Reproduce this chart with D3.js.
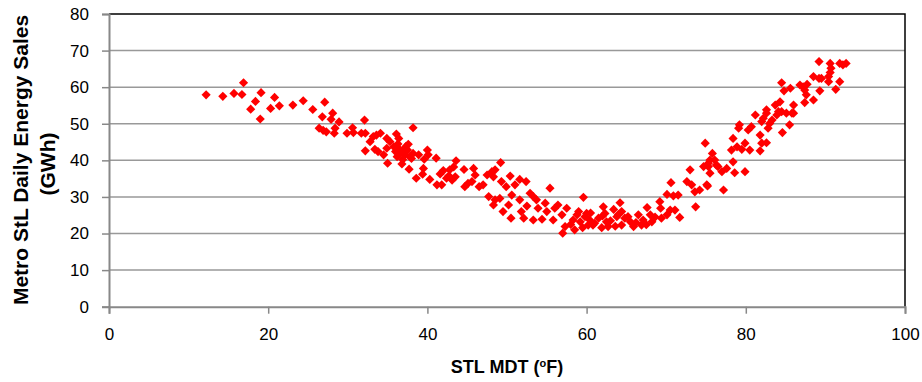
<!DOCTYPE html>
<html>
<head>
<meta charset="utf-8">
<script src="https://cdn.jsdelivr.net/npm/d3@7"></script>
<style>
  body { margin: 0; background: #fff; }
</style>
</head>
<body>
<div class="chart"></div>
<script>
const width = 922
const height = 382

// daily mean temperature (F) and energy sales (GWh)
const tempF = [
  12.2, 14.3, 15.7, 16.7, 16.9, 17.8, 18.4, 19.0, 19.1, 20.3, 20.8, 21.4, 23.1, 24.4, 25.6, 26.4,
  27.1, 26.8, 28.1, 27.9, 28.9, 26.9, 27.3, 28.4, 28.3, 29.9, 30.6, 30.7, 31.7, 32.1, 32.2, 32.8,
  33.2, 33.6, 34.1, 32.2, 33.4, 33.8, 34.5, 34.9, 34.9, 35.0,
  35.3, 36.1, 36.4, 35.8, 36.0, 36.6, 36.2, 36.8, 37.0, 37.6, 37.8, 37.7, 38.2, 38.2, 38.9, 39.6,
  40.0, 40.1, 39.5, 38.6, 39.4, 40.3, 41.1, 41.6, 41.2, 41.8, 42.4,
  36.5, 37.2, 36.9, 37.5, 38.0, 36.3, 37.3,
  43.6, 42.8, 43.1, 43.5, 44.6, 44.7, 45.1, 45.6, 45.8, 46.0, 46.5, 47.0, 47.5, 48.1, 48.5, 48.3,
  49.2, 49.3, 49.9, 50.4, 51.0, 51.6, 52.4, 47.7, 48.5, 49.1, 48.3, 49.5, 50.2, 50.6, 50.5, 51.6,
  51.8, 52.1, 52.5, 52.9, 53.3, 53.3, 53.7, 53.9, 54.4, 54.8, 55.0, 55.4, 55.8, 56.0, 56.4, 56.9,
  57.5, 57.3, 57.0, 58.5, 58.3, 58.8, 59.2, 59.6, 59.8, 60.2, 60.0,
  42.0, 42.7, 43.3, 58.0, 59.5, 59.0,
  60.4, 60.8, 61.5, 62.1, 62.3, 62.5, 62.7, 63.4, 63.8, 64.2, 64.4, 64.4, 64.8, 65.5, 65.9, 66.5,
  66.9, 67.1, 67.6, 68.0, 68.2, 69.2, 69.3, 69.4, 70.1, 70.1, 70.5, 70.6, 71.1, 71.5, 71.7, 70.9,
  73.0, 72.6, 73.2, 73.6, 73.7, 74.2, 75.1, 75.3, 75.5, 76.3, 77.2,
  61.0, 61.9, 63.0, 63.6, 64.0, 65.2, 66.2, 67.5, 68.6, 60.5, 62.0,
  75.2, 74.9, 74.7, 75.3, 75.8, 76.1, 75.5, 76.5, 77.0, 77.6, 78.4, 78.6, 78.2, 78.4, 78.9, 79.5,
  79.9, 79.9, 80.5, 80.3, 80.7, 79.2, 79.1, 81.8, 82.0, 81.8, 82.6, 81.2, 82.2, 82.6, 82.8, 83.0,
  83.3, 83.9, 84.5, 84.6, 85.5, 85.8, 85.1,
  82.0, 82.6, 83.7, 84.3, 84.1, 86.0, 86.0, 84.5, 84.8, 85.6, 86.8, 87.2, 87.7, 87.4, 87.6, 87.4,
  88.5, 88.5, 89.2, 89.3, 89.5, 90.4, 90.6, 90.7, 90.6, 89.2, 90.4, 91.3, 91.8, 91.8, 92.6, 92.2
]
const salesGWh = [
  57.9, 57.5, 58.3, 58.0, 61.2, 54.0, 56.1, 51.3, 58.5, 54.2, 57.2, 54.9, 55.1, 56.3, 53.9, 48.8,
  55.9, 51.9, 52.9, 51.2, 50.5, 48.2, 47.8, 48.8, 47.4, 47.4, 48.9, 47.6, 47.4, 51.0, 47.4, 45.1,
  46.5, 46.9, 47.4, 42.6, 43.0, 42.4, 41.5, 46.0, 43.3, 39.2,
  45.1, 47.2, 46.0, 43.7, 42.4, 41.9, 41.0, 39.0, 42.8, 44.4, 41.0, 37.6, 48.9, 41.9, 41.5, 40.3,
  42.8, 41.5, 37.8, 35.1, 36.2, 34.8, 40.6, 36.3, 33.3, 33.3, 35.1,
  43.0, 41.5, 40.2, 42.8, 40.5, 44.5, 43.8,
  39.9, 37.4, 34.6, 35.5, 37.5, 32.8, 33.7, 34.2, 37.8, 36.0, 32.8, 33.3, 36.0, 36.9, 37.4, 35.5,
  39.4, 34.2, 32.8, 35.7, 33.3, 34.8, 34.2, 30.1, 29.2, 29.6, 27.8, 26.0, 27.8, 30.5, 24.2, 29.2,
  26.0, 24.2, 27.5, 31.0, 30.1, 23.7, 29.2, 26.9, 23.9, 28.3, 26.0, 32.4, 23.7, 26.9, 27.8, 25.1,
  26.9, 21.9, 20.1, 21.0, 23.7, 25.1, 23.2, 29.9, 24.6, 22.3, 25.5,
  37.2, 35.8, 38.2, 22.5, 21.6, 26.0,
  23.7, 22.3, 24.2, 27.3, 25.5, 23.2, 21.9, 26.6, 24.6, 28.4, 26.0, 22.3, 24.2, 23.2, 21.9, 25.1,
  22.3, 23.7, 27.1, 25.1, 23.2, 28.7, 26.9, 24.2, 25.1, 30.7, 26.4, 33.9, 26.4, 30.5, 24.4, 30.3,
  37.4, 34.2, 33.3, 31.4, 27.3, 31.9, 33.3, 38.3, 40.1, 38.7, 31.9,
  22.8, 21.6, 23.5, 22.0, 25.2, 24.6, 23.0, 22.4, 24.5, 25.6, 24.8,
  33.0, 44.7, 38.3, 39.2, 41.9, 40.1, 36.5, 38.3, 36.9, 37.8, 39.6, 36.6, 42.8, 46.0, 43.7, 43.0,
  44.7, 36.9, 42.8, 48.3, 49.2, 49.7, 48.8, 46.9, 44.7, 42.6, 44.8, 52.4, 51.5, 52.9, 48.8, 50.1,
  51.0, 52.4, 53.3, 47.6, 49.7, 52.9, 52.9,
  50.6, 53.8, 55.1, 56.0, 53.3, 55.1, 52.9, 61.2, 59.0, 59.7, 60.6, 60.1, 60.8, 59.2, 57.9, 55.8,
  56.5, 62.9, 62.4, 59.0, 62.4, 62.9, 64.0, 65.2, 66.5, 67.0, 61.5, 59.4, 61.5, 66.5, 66.5, 66.1
]
const xTicks = [0, 20, 40, 60, 80, 100]
const yTicks = [0, 10, 20, 30, 40, 50, 60, 70, 80]

const points = tempF.map((t, i) => ({t: t, s: salesGWh[i]}))

function drawScatter(points) {
  const margin = {top: 14, right: 17, bottom: 75, left: 109}

  const x = d3.scaleLinear()
    .domain([0, 100])
    .range([margin.left, width - margin.right])

  const y = d3.scaleLinear()
    .domain([0, 80])
    .range([height - margin.bottom - 0.3, margin.top])

  const svg = d3.create("svg")
    .attr("width", width)
    .attr("height", height)
    .attr("viewBox", [0, 0, width, height])
    .style("font-family", "'Liberation Sans', Arial, Helvetica, sans-serif")

  // horizontal gridlines
  svg.append("g")
    .selectAll("line")
    .data(yTicks.slice(1, -1))
    .join("line")
    .attr("x1", x(0))
    .attr("x2", x(100))
    .attr("y1", d => y(d))
    .attr("y2", d => y(d))
    .attr("stroke", "#999")
    .attr("stroke-width", 1.5)

  // black frame on top and right
  svg.append("path")
    .attr("d", `M${x(0)},${y(80)}H${x(100)}V${y(0)}`)
    .attr("fill", "none")
    .attr("stroke", "#000")
    .attr("stroke-width", 1.5)

  const xAxis = svg.append("g")
    .attr("transform", `translate(0,${y(0)})`)
    .call(d3.axisBottom(x).tickValues(xTicks).tickSize(7).tickPadding(14))

  const yAxis = svg.append("g")
    .attr("transform", `translate(${x(0)},0)`)
    .call(d3.axisLeft(y).tickValues(yTicks).tickSize(7).tickPadding(13))

  for (const ax of [xAxis, yAxis]) {
    ax.select(".domain").attr("stroke", "#888").attr("stroke-width", 2)
    ax.selectAll(".tick line").attr("stroke", "#888").attr("stroke-width", 1.5)
    ax.selectAll(".tick text")
      .attr("fill", "#000")
      .style("font-size", "17px")
      .style("font-family", "'Liberation Sans', Arial, sans-serif")
  }

  // markers: red diamonds
  const diamond = d3.symbol().type(d3.symbolSquare).size(42)
  svg.append("g")
    .selectAll("path")
    .data(points)
    .join("path")
    .attr("d", diamond)
    .attr("transform", d => `translate(${x(d.t)},${y(d.s)}) rotate(45)`)
    .attr("fill", "#ff0000")
    .append("title")
    .text(d => `${d.t} F: ${d.s} GWh`)

  // axis titles
  const xLabel = svg.append("text")
    .attr("x", 507)
    .attr("y", 373)
    .attr("text-anchor", "middle")
    .style("font", "bold 18px 'Liberation Sans', Arial, sans-serif")
  xLabel.append("tspan").text("STL MDT (")
  xLabel.append("tspan").attr("dy", -6).style("font-size", "11px").text("o")
  xLabel.append("tspan").attr("dy", 6).text("F)")

  const yLabel = svg.append("text")
    .attr("transform", "translate(28,160) rotate(-90)")
    .attr("text-anchor", "middle")
    .style("font", "bold 21px 'Liberation Sans', Arial, sans-serif")
  yLabel.append("tspan").attr("x", 0).attr("y", 0).text("Metro StL Daily Energy Sales")
  yLabel.append("tspan").attr("x", -4).attr("y", 27).text("(GWh)")

  document.querySelector(".chart").append(svg.node())
}

drawScatter(points)
</script>
</body>
</html>
